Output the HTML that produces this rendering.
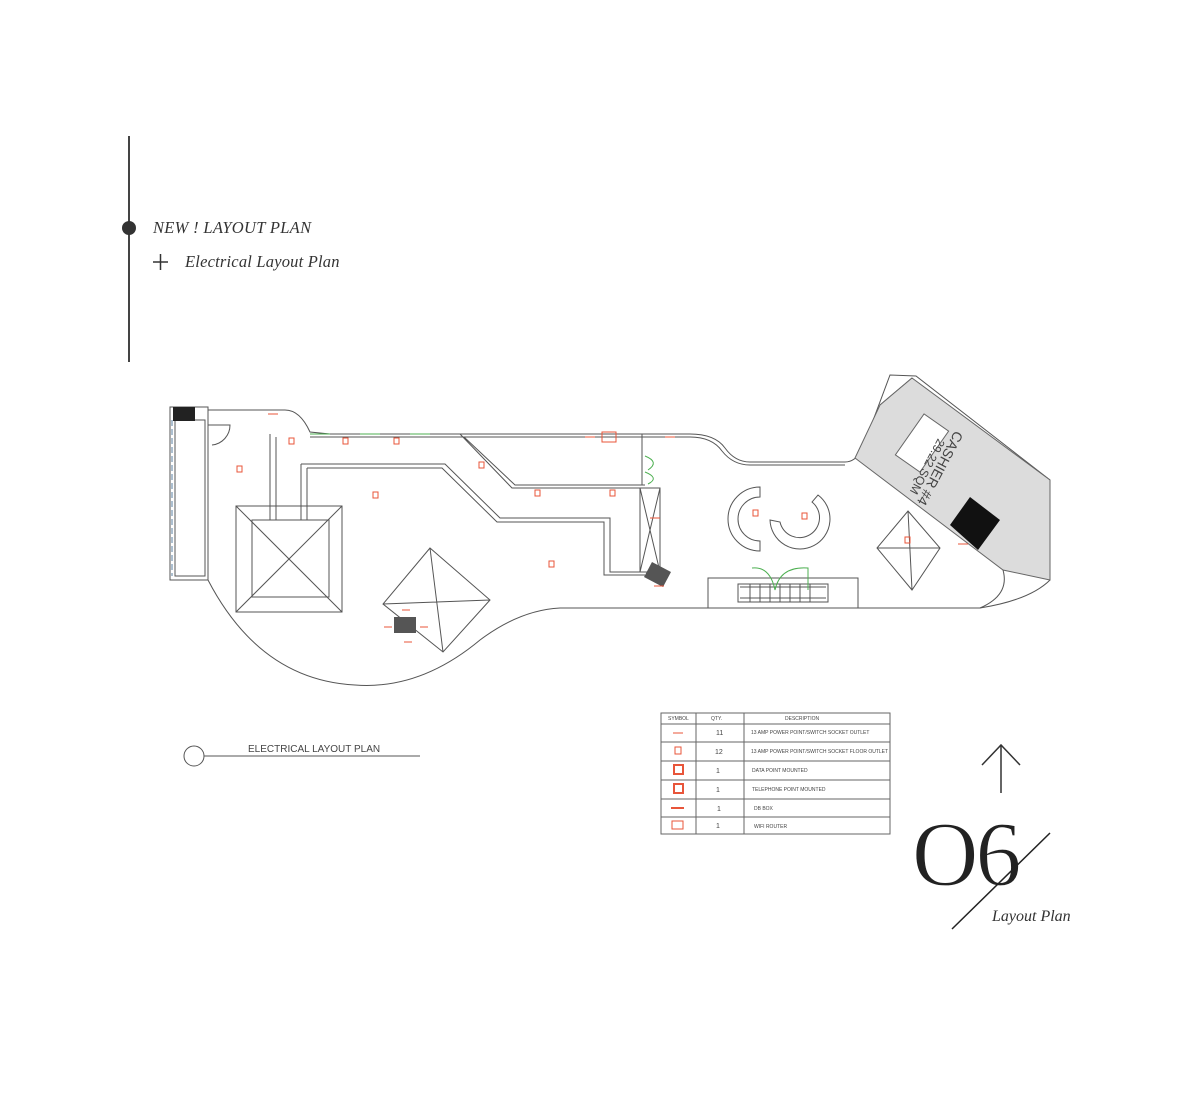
<!DOCTYPE html>
<html><head><meta charset="utf-8"><style>
html,body{margin:0;padding:0;background:#fff;}
svg{display:block;}
.s{font-family:"Liberation Serif",serif;font-style:italic;fill:#333;}
.t{font-family:"Liberation Sans",sans-serif;fill:#444;}
</style></head><body>
<svg width="1200" height="1120" viewBox="0 0 1200 1120" xmlns="http://www.w3.org/2000/svg">
<line x1="129" y1="136" x2="129" y2="362" stroke="#444" stroke-width="2"/>
<circle cx="129" cy="228" r="7" fill="#333"/>
<text x="153" y="233" class="s" font-size="16.5" letter-spacing="0.3">NEW ! LAYOUT PLAN</text>
<line x1="153" y1="262" x2="168" y2="262" stroke="#333" stroke-width="1.5"/>
<line x1="160.5" y1="254" x2="160.5" y2="270" stroke="#333" stroke-width="1.5"/>
<text x="185" y="267" class="s" font-size="16.5" letter-spacing="0.2">Electrical Layout Plan</text>

<g fill="none" stroke="#555" stroke-width="1">
<rect x="170" y="407" width="38" height="173"/>
<rect x="175" y="420" width="30" height="156"/>
<line x1="172" y1="420" x2="172" y2="576" stroke="#5a7fa0" stroke-dasharray="6,3"/>
<path d="M208 410 L285 410 Q300 410 310 432 L330 434 L690 434 Q715 434 725 448 Q735 462 750 462 L845 462 Q855 462 862 450 L890 375 L916 376 L1050 480 L1050 580 Q1030 600 980 608 L560 608 Q520 610 480 640 Q420 690 355 685 Q260 680 208 580"/>
<path d="M310 437 L690 437 Q712 437 722 451 Q733 465 750 465 L845 465"/>
<path d="M208 425 L230 425 A20 20 0 0 1 212 445"/>
<path d="M270 434 L270 520 M276 437 L276 520"/>
<path d="M301 464 L301 520 M307 468 L307 520 M301 464 L445 464 L500 518 L610 518 L610 572 L645 572 M307 468 L442 468 L497 522 L604 522 L604 575 L645 575"/>
<path d="M460 434 L512 488 L640 488 L640 572 M464 437 L515 485 L645 485"/>
<rect x="640" y="488" width="20" height="84"/>
<line x1="640" y1="488" x2="660" y2="572"/><line x1="660" y1="488" x2="640" y2="572"/>
<line x1="642" y1="434" x2="642" y2="485"/>
<rect x="236" y="506" width="106" height="106"/>
<rect x="252" y="520" width="77" height="77"/>
<line x1="236" y1="506" x2="342" y2="612"/><line x1="342" y1="506" x2="236" y2="612"/>
<path d="M430 548 L490 600 L443 652 L383 604 Z M430 548 L443 652 M383 604 L490 600"/>
<path d="M908 511 L940 548 L912 590 L877 548 Z M908 511 L912 590 M877 548 L940 548"/>
<!-- S shape: two C arcs -->
<path d="M760 487 A32 32 0 0 0 760 551 L760 541 A22 22 0 0 1 760 497 Z"/>
<path d="M818 495 A30 30 0 1 1 770 520 L780 522 A20 20 0 1 0 812 502 Z"/>
<rect x="708" y="578" width="150" height="30"/>
<rect x="738" y="584" width="90" height="18"/>
<path d="M740 587 L826 587 M740 598 L826 598 M750 584 V602 M760 584V602 M770 584V602 M780 584V602 M790 584V602 M800 584V602 M810 584V602"/>
<path d="M880 405 L912 378"/>
</g>
<polygon points="912,378 1050,480 1050,580 1003,570 855,458 880,405" fill="#dcdcdc" stroke="#666"/>
<path d="M1003 570 Q1010 595 980 608" fill="none" stroke="#555"/>
<rect x="907" y="418" width="30" height="50" fill="#fff" stroke="#666" transform="rotate(35 922 443)"/>
<text x="0" y="0" class="t" font-size="14" fill="#333" transform="translate(955,430) rotate(118)">CASHIER #4</text>
<text x="0" y="0" class="t" font-size="12" fill="#333" transform="translate(938,438) rotate(118)">29.22 SQM</text>
<polygon points="970,497 1000,520 978,550 950,525" fill="#111"/>
<rect x="173" y="407" width="22" height="14" fill="#222"/>
<rect x="394" y="617" width="22" height="16" fill="#555"/>
<polygon points="652,562 671,572 663,587 644,577" fill="#555"/>
<g fill="none" stroke="#4caf50" stroke-width="1">
<path d="M310 434 L330 434 M360 434 L380 434 M410 434 L430 434"/>
<path d="M645 456 Q660 462 648 470 M645 472 Q660 478 648 484"/>
<path d="M752 568 Q770 566 775 590 Q780 566 808 568 L808 590"/>
</g>
<g fill="none" stroke="#e8553a" stroke-width="1">
<rect x="237" y="466" width="5" height="6"/><rect x="289" y="438" width="5" height="6"/><rect x="343" y="438" width="5" height="6"/><rect x="394" y="438" width="5" height="6"/>
<rect x="373" y="492" width="5" height="6"/><rect x="535" y="490" width="5" height="6"/><rect x="610" y="490" width="5" height="6"/>
<rect x="549" y="561" width="5" height="6"/><rect x="753" y="510" width="5" height="6"/><rect x="802" y="513" width="5" height="6"/><rect x="905" y="537" width="5" height="6"/><rect x="479" y="462" width="5" height="6"/>
<rect x="602" y="432" width="14" height="10"/>
<path d="M268 414 h10 M585 437 h10 M665 437 h10 M650 518 h10 M654 586 h10 M958 544 h10 M402 610 h8 M384 627 h8 M420 627 h8 M404 642 h8"/>
</g>
<circle cx="194" cy="756" r="10" fill="none" stroke="#555"/>
<line x1="204" y1="756" x2="420" y2="756" stroke="#555"/>
<text x="248" y="752" class="t" font-size="10">ELECTRICAL LAYOUT PLAN</text>
<g stroke="#666" fill="none">
<rect x="661" y="713" width="229" height="121"/>
<line x1="696" y1="713" x2="696" y2="834"/><line x1="744" y1="713" x2="744" y2="834"/>
<line x1="661" y1="724" x2="890" y2="724"/><line x1="661" y1="742" x2="890" y2="742"/><line x1="661" y1="761" x2="890" y2="761"/><line x1="661" y1="780" x2="890" y2="780"/><line x1="661" y1="799" x2="890" y2="799"/><line x1="661" y1="817" x2="890" y2="817"/>
</g>
<g class="t" font-size="5">
<text x="668" y="720">SYMBOL</text><text x="711" y="720">QTY.</text><text x="785" y="720">DESCRIPTION</text>
<text x="716" y="735" font-size="7">11</text><text x="751" y="734">13 AMP POWER POINT/SWITCH SOCKET OUTLET</text>
<text x="715" y="754" font-size="7">12</text><text x="751" y="753">13 AMP POWER POINT/SWITCH SOCKET FLOOR OUTLET</text>
<text x="716" y="773" font-size="7">1</text><text x="752" y="772">DATA POINT MOUNTED</text>
<text x="716" y="792" font-size="7">1</text><text x="752" y="791">TELEPHONE POINT MOUNTED</text>
<text x="717" y="811" font-size="7">1</text><text x="754" y="810">DB BOX</text>
<text x="716" y="828" font-size="7">1</text><text x="754" y="828">WIFI ROUTER</text>
</g>
<g fill="none" stroke="#e8553a">
<path d="M673 733 h10"/><rect x="675" y="747" width="6" height="7"/><rect x="674" y="765" width="9" height="9" stroke-width="2"/><rect x="674" y="784" width="9" height="9" stroke-width="2"/><path d="M671 808 h13" stroke-width="2"/><rect x="672" y="821" width="11" height="8"/>
</g>
<g stroke="#333" stroke-width="1.5" fill="none">
<line x1="1001" y1="745" x2="1001" y2="793"/>
<path d="M982 765 L1001 745 L1020 765"/>
</g>
<text x="912" y="885" font-family="Liberation Serif,serif" font-size="92" fill="#222" stroke="#fff" stroke-width="1.2" letter-spacing="-3">O6</text>
<line x1="952" y1="929" x2="1050" y2="833" stroke="#222" stroke-width="1.5"/>
<text x="992" y="921" class="s" font-size="16">Layout Plan</text>
</svg>
</body></html>
